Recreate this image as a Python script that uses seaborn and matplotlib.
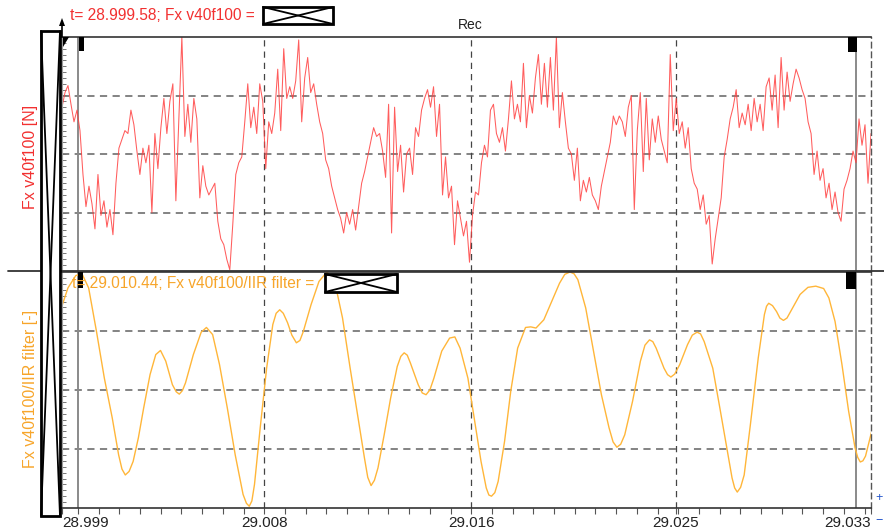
import numpy as np
import pandas as pd
import matplotlib
matplotlib.use("Agg")
import matplotlib.pyplot as plt
import seaborn as sns
from matplotlib.patches import Rectangle, Polygon
from matplotlib.lines import Line2D

# ---- data -------------------------------------------------------------
t_start = 28.999
t_end = 29.033

# raw force signal, sampled uniformly between t_start and t_end
fx_raw = [
    2.80, 3.05, 3.17, 2.85, 2.55, 2.75, 2.40, 1.65, 1.10, 1.45,
    1.15, 0.72, 1.65, 0.95, 1.20, 0.75, 1.05, 0.62, 1.50, 2.10,
    2.25, 2.40, 2.35, 2.75, 2.50, 2.05, 1.65, 2.10, 1.85, 2.15,
    1.00, 2.35, 1.75, 2.45, 2.95, 2.35, 2.90, 3.20, 1.20, 2.60,
    4.00, 2.30, 2.85, 2.20, 2.95, 2.60, 1.25, 1.80, 1.45, 1.30,
    1.40, 1.50, 0.85, 0.55, 0.45, 0.20, 0.02, 0.80, 1.65, 1.85,
    1.95, 2.55, 3.20, 2.45, 2.80, 2.35, 3.20, 2.90, 1.75, 2.55,
    2.35, 2.70, 3.45, 2.40, 3.80, 2.95, 3.15, 2.95, 3.25, 3.95,
    2.55, 3.30, 3.65, 3.05, 3.20, 2.85, 2.55, 2.35, 1.90, 1.75,
    1.45, 1.25, 1.05, 0.90, 0.65, 1.00, 0.80, 1.05, 0.70, 1.10,
    1.50, 1.70, 1.95, 2.20, 2.45, 2.30, 2.35, 2.05, 1.60, 2.85,
    0.65, 2.80, 1.70, 2.15, 1.35, 2.00, 2.10, 1.65, 2.45, 2.30,
    2.75, 2.95, 3.10, 2.80, 3.15, 2.30, 2.85, 1.30, 1.95, 1.25,
    1.45, 0.45, 1.20, 0.90, 0.60, 0.85, 0.15, 0.95, 1.35, 1.30,
    1.85, 2.15, 1.95, 2.75, 2.85, 2.35, 2.20, 2.45, 2.05, 2.60,
    3.25, 2.60, 2.85, 2.55, 3.55, 2.45, 3.00, 2.70, 3.30, 3.70,
    2.85, 3.55, 2.80, 3.65, 2.75, 4.00, 2.45, 3.05, 2.55, 2.10,
    2.00, 1.55, 2.10, 1.20, 1.55, 1.35, 1.60, 1.30, 1.20, 1.05,
    1.45, 1.70, 1.95, 2.20, 2.65, 2.50, 2.65, 2.55, 2.30, 2.80,
    3.00, 1.05, 2.40, 3.05, 1.70, 2.95, 1.90, 2.60, 2.20, 2.65,
    2.25, 2.05, 1.85, 3.70, 2.40, 2.95, 2.35, 2.55, 2.10, 2.45,
    1.75, 1.50, 1.40, 1.05, 1.30, 0.80, 0.95, 0.12, 0.55, 0.90,
    1.25, 1.95, 2.25, 2.60, 2.80, 3.10, 2.45, 2.70, 2.50, 2.85,
    2.40, 2.95, 2.55, 2.85, 2.40, 3.15, 3.30, 2.75, 3.35, 2.45,
    3.65, 2.75, 3.40, 2.90, 3.20, 3.45, 3.30, 3.10, 2.95, 2.55,
    2.35, 1.65, 2.05, 1.55, 1.75, 1.25, 1.50, 1.05, 1.35, 1.00,
    0.85, 1.40, 1.55, 1.75, 2.05, 1.85, 2.60, 2.15, 2.50, 1.50,
    2.35,
]

# IIR-filtered signal: time offset from t_start in ms, and value
iir_ms = [
    -0.08, 0.25, 0.58, 0.84, 1.12, 1.45, 1.78, 2.11, 2.38, 2.52, 2.66,
    2.82, 2.99, 3.21, 3.43, 3.70, 3.94, 4.14, 4.36, 4.64, 4.80, 4.93, 5.06, 5.19,
    5.52, 5.85, 6.07, 6.33, 6.62, 6.95, 7.28, 7.61, 7.75, 7.87, 7.98, 8.09,
    8.33, 8.60, 8.86, 9.00, 9.15, 9.30, 9.48, 9.66, 9.85, 10.00, 10.14, 10.47, 10.80, 11.13,
    11.46, 11.79, 12.11, 12.44, 12.71, 12.85, 12.99, 13.13, 13.28, 13.54, 13.81, 14.09,
    14.24, 14.38, 14.51, 14.64, 14.97, 15.14, 15.30, 15.46, 15.63, 15.96, 16.29, 16.51, 16.73, 17.06,
    17.32, 17.61, 17.83, 17.94, 18.05, 18.19, 18.33, 18.60, 18.86, 19.15, 19.48, 19.70, 19.92,
    20.25, 20.58, 20.91, 21.13, 21.35, 21.52, 21.68, 22.01, 22.34, 22.67, 22.99, 23.16, 23.32,
    23.48, 23.65, 23.98, 24.31, 24.50, 24.69, 24.83, 24.97, 25.30, 25.45, 25.59, 25.75, 25.96, 26.29,
    26.49, 26.69, 26.84, 26.99, 27.35, 27.65, 27.94, 28.16, 28.27, 28.38, 28.52, 28.67, 28.93, 29.26,
    29.52, 29.61, 29.70, 29.86, 30.03, 30.17, 30.32, 30.47, 30.62, 31.02, 31.35, 31.68, 32.01, 32.23,
    32.49, 32.78, 33.06, 33.33, 33.44, 33.55, 33.66, 33.77, 34.03,
]
iir_val = [
    3.33, 3.73, 3.94, 3.97, 3.73, 2.99, 2.20, 1.53, 0.90, 0.66, 0.56,
    0.62, 0.79, 1.19, 1.69, 2.26, 2.60, 2.67, 2.49, 2.09, 1.97, 1.93, 1.99, 2.12,
    2.60, 2.98, 3.06, 2.94, 2.43, 1.69, 0.90, 0.23, 0.08, 0.03, 0.12, 0.40,
    1.36, 2.37, 3.11, 3.30, 3.36, 3.30, 3.14, 2.93, 2.80, 2.84, 2.99, 3.45, 3.84, 4.00,
    3.84, 3.22, 2.37, 1.53, 0.85, 0.52, 0.38, 0.47, 0.68, 1.24, 1.86, 2.40,
    2.57, 2.63, 2.59, 2.46, 2.09, 1.95, 1.92, 2.00, 2.20, 2.66, 2.88, 2.90, 2.71, 2.20,
    1.53, 0.79, 0.34, 0.22, 0.20, 0.26, 0.45, 1.13, 1.98, 2.71, 3.06, 3.07, 3.05,
    3.19, 3.50, 3.81, 3.96, 4.00, 3.97, 3.87, 3.39, 2.66, 1.92, 1.36, 1.12, 1.03,
    1.08, 1.24, 1.81, 2.49, 2.76, 2.85, 2.82, 2.71, 2.37, 2.26, 2.22, 2.27, 2.43, 2.77,
    2.93, 2.98, 2.95, 2.82, 2.37, 1.69, 1.02, 0.51, 0.34, 0.27, 0.35, 0.56, 1.41, 2.54,
    3.28, 3.42, 3.47, 3.43, 3.33, 3.22, 3.18, 3.22, 3.33, 3.62, 3.74, 3.76, 3.72, 3.56,
    3.16, 2.43, 1.64, 1.02, 0.86, 0.78, 0.80, 0.88, 1.30,
]

tick_pos = [28.999, 29.0075, 29.0162, 29.0248, 29.033]
tick_lbl = ["28.999", "29.008", "29.016", "29.025", "29.033"]
cursor_t = [28.99967, 29.03237]

raw_df = pd.DataFrame({"t": np.linspace(t_start, t_end, len(fx_raw)), "fx": fx_raw})
iir_df = pd.DataFrame({"t": t_start + np.array(iir_ms) / 1000.0, "fx": iir_val})

# ---- style ------------------------------------------------------------
sns.set_theme(style="white")
plt.rcParams["font.family"] = ["Liberation Sans", "DejaVu Sans"]

RED = "#f23030"
ORANGE = "#f7a52a"
W, H = 884, 530

fig = plt.figure(figsize=(W / 100, H / 100), dpi=100)
ax1 = fig.add_axes([62 / W, 1 - 271 / H, 809 / W, 234 / H])
ax2 = fig.add_axes([62 / W, 1 - 508 / H, 809 / W, 236 / H])

sns.lineplot(data=raw_df, x="t", y="fx", ax=ax1, color="#ff4040", lw=0.75,
             alpha=0.85, estimator=None, sort=False)
sns.lineplot(data=iir_df, x="t", y="fx", ax=ax2, color="#ffb639", lw=1.0,
             estimator=None, sort=False)
for ax in (ax1, ax2):
    for ln in ax.get_lines():
        ln.set_solid_joinstyle("round")

major_mid = tick_pos[1:-1]
step = (tick_pos[2] - tick_pos[1]) / 10
minor = np.arange(tick_pos[1] - 10 * step, t_end + step, step)
minor = minor[(minor > t_start) & (minor < t_end)]

for ax in (ax1, ax2):
    ax.set_xlim(t_start, t_end)
    ax.set_ylim(0, 4)
    ax.set_xlabel("")
    ax.set_ylabel("")
    ax.set_facecolor("white")
    for lv in (1, 2, 3):
        ax.axhline(lv, color="#7a7a7a", lw=1.3, ls=(0, (4, 3)), zorder=0)
    for xv in major_mid:
        ax.axvline(xv, color="#444444", lw=0.9, ls=(0, (5, 4)), zorder=0)
    for ct in cursor_t:
        ax.axvline(ct, color="#8a8a8a", lw=1.4, zorder=1)
    ax.set_yticks([])
    ax.set_yticks(np.arange(0.1, 4.0, 0.1), minor=True)
    ax.tick_params(axis="y", which="minor", direction="in", length=3,
                   color="#777777", width=0.7, left=True, labelleft=False)
    ax.spines["left"].set_color("#9a9a9a")
    ax.spines["left"].set_linewidth(0.8)
    ax.spines["right"].set_color("#555555")
    ax.spines["right"].set_linestyle((0, (4, 3)))
    ax.spines["right"].set_linewidth(1.0)
    ax.spines["top"].set_color("#333333")
    ax.spines["top"].set_linewidth(1.2)

ax1.set_xticks([])
ax1.spines["bottom"].set_visible(False)
ax2.spines["bottom"].set_color("#333333")
ax2.spines["bottom"].set_linewidth(1.2)
ax2.set_xticks(tick_pos)
ax2.set_xticklabels(tick_lbl, fontsize=11, color="#222222")
ax2.set_xticks(minor, minor=True)
ax2.tick_params(axis="x", which="both", direction="out", length=4,
                color="#555555", width=0.8, bottom=True, pad=2)
for lbl, ha in zip(ax2.get_xticklabels(), ["left", "center", "center", "center", "right"]):
    lbl.set_horizontalalignment(ha)


def fx(px):
    return px / W


def fy(py):
    return 1 - py / H


def crossed_box(x0, y0, x1, y1, lw=2.0):
    fig.add_artist(Rectangle((fx(x0), fy(y1)), fx(x1) - fx(x0), fy(y0) - fy(y1),
                             transform=fig.transFigure, fill=True, fc="white",
                             ec="black", lw=lw, zorder=5))
    for a, b in (((x0, y0), (x1, y1)), ((x0, y1), (x1, y0))):
        fig.add_artist(Line2D([fx(a[0]), fx(b[0])], [fy(a[1]), fy(b[1])],
                              transform=fig.transFigure, color="black", lw=1.3, zorder=6))


def black_mark(x0, y0, x1, y1):
    fig.add_artist(Rectangle((fx(x0), fy(y1)), fx(x1) - fx(x0), fy(y0) - fy(y1),
                             transform=fig.transFigure, fc="black", ec="none", zorder=6))


# separator between the two channels
fig.add_artist(Line2D([fx(8), fx(884)], [fy(271), fy(271)], transform=fig.transFigure,
                      color="#333333", lw=1.3, zorder=4))

# channel headers
fig.text(fx(70), fy(15), "t= 28.999.58; Fx v40f100 =", color=RED, fontsize=11.2, va="center")
crossed_box(263, 7, 333, 24)
fig.text(fx(470), fy(25), "Rec", color="#222222", fontsize=10, ha="center", va="center")
fig.text(fx(72), fy(283), "t= 29.010.44; Fx v40f100/IIR filter =", color=ORANGE,
         fontsize=11.2, va="center", zorder=7)
crossed_box(325, 274, 397, 292)

# channel names
fig.text(fx(31), fy(157), "Fx v40f100 [N]", color=RED, fontsize=11.5, rotation=90,
         ha="center", va="center")
fig.text(fx(31), fy(389), "Fx v40f100/IIR filter [-]", color=ORANGE, fontsize=11.5,
         rotation=90, ha="center", va="center")

# scroll bar on the left
crossed_box(41, 31, 60, 516)

# axis arrow and corner marker
fig.add_artist(Line2D([fx(62), fx(62)], [fy(37), fy(26)], transform=fig.transFigure,
                      color="black", lw=1.2, zorder=6))
fig.add_artist(Polygon([[fx(59), fy(26)], [fx(65), fy(26)], [fx(62), fy(18)]], closed=True,
                       transform=fig.transFigure, fc="black", ec="none", zorder=6))
fig.add_artist(Polygon([[fx(63), fy(37)], [fx(69), fy(37)], [fx(63), fy(47)]], closed=True,
                       transform=fig.transFigure, fc="black", ec="none", zorder=6))

# cursor handles
black_mark(79, 37, 84, 51)
black_mark(848, 37, 857, 52)
black_mark(78, 272, 83, 288)
black_mark(846, 272, 856, 289)

# zoom buttons at the bottom right
fig.text(fx(879), fy(498), "+", color="#2255cc", fontsize=9, ha="center", va="center")
fig.text(fx(879), fy(521), "\u2212", color="#2255cc", fontsize=9, ha="center", va="center")

fig.savefig("out.png", dpi=100)
